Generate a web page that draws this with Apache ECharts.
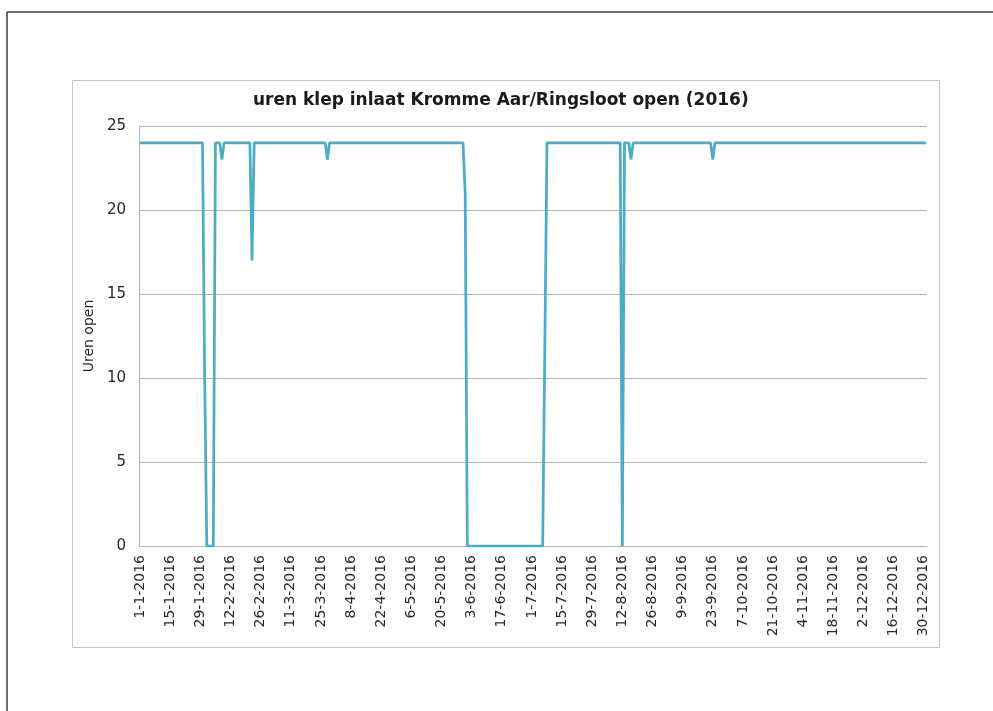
<!DOCTYPE html>
<html>
<head>
<meta charset="utf-8">
<script src="https://cdn.jsdelivr.net/npm/echarts@6/dist/echarts.min.js"></script>
<style>
html,body{margin:0;padding:0;background:#fff;}
#c{width:993px;height:711px;}
</style>
</head>
<body>
<div id="c"></div>
<script>
// ---- data ----
const titleText = 'uren klep inlaat Kromme Aar/Ringsloot open (2016)';
const yAxisName = 'Uren open';
const year = 2016;
const monthDays = [31,29,31,30,31,30,31,31,30,31,30,31];
const yTicks = [0,5,10,15,20,25];

const jan = [24,24,24,24,24,24,24,24,24,24, 24,24,24,24,24,24,24,24,24,24, 24,24,24,24,24,24,24,24,24,24, 10];
const feb = [0,0,0,0,24,24,24,23,24,24, 24,24,24,24,24,24,24,24,24,24, 24,17,24,24,24,24,24,24,24];
const mar = [24,24,24,24,24,24,24,24,24,24, 24,24,24,24,24,24,24,24,24,24, 24,24,24,24,24,24,24,23,24,24, 24];
const apr = [24,24,24,24,24,24,24,24,24,24, 24,24,24,24,24,24,24,24,24,24, 24,24,24,24,24,24,24,24,24,24];
const may = [24,24,24,24,24,24,24,24,24,24, 24,24,24,24,24,24,24,24,24,24, 24,24,24,24,24,24,24,24,24,24, 21];
const jun = [0,0,0,0,0,0,0,0,0,0, 0,0,0,0,0,0,0,0,0,0, 0,0,0,0,0,0,0,0,0,0];
const jul = [0,0,0,0,0,0,12,24,24,24, 24,24,24,24,24,24,24,24,24,24, 24,24,24,24,24,24,24,24,24,24, 24];
const aug = [24,24,24,24,24,24,24,24,24,24, 24,0,24,24,24,23,24,24,24,24, 24,24,24,24,24,24,24,24,24,24, 24];
const sep = [24,24,24,24,24,24,24,24,24,24, 24,24,24,24,24,24,24,24,24,24, 24,24,23,24,24,24,24,24,24,24];
const oct = [24,24,24,24,24,24,24,24,24,24, 24,24,24,24,24,24,24,24,24,24, 24,24,24,24,24,24,24,24,24,24, 24];
const nov = [24,24,24,24,24,24,24,24,24,24, 24,24,24,24,24,24,24,24,24,24, 24,24,24,24,24,24,24,24,24,24];
const dec = [24,24,24,24,24,24,24,24,24,24, 24,24,24,24,24,24,24,24,24,24, 24,24,24,24,24,24,24,24,24,24, 24];

// ---- build ----
const values = [].concat(jan,feb,mar,apr,may,jun,jul,aug,sep,oct,nov,dec);
const dates = [];
monthDays.forEach((n, m) => { for (let d = 1; d <= n; d++) dates.push(d + '-' + (m + 1) + '-' + year); });

const FONT = 'DejaVu Sans';
const chart = echarts.init(document.getElementById('c'), null, {renderer: 'canvas'});
chart.setOption({
  backgroundColor: '#ffffff',
  animation: false,
  textStyle: {fontFamily: FONT},
  title: {
    text: titleText,
    left: 253, top: 92, padding: 0,
    textStyle: {fontFamily: FONT, fontSize: 17, fontWeight: 'bold', color: '#1a1a1a'}
  },
  graphic: [
    {type: 'line', shape: {x1: 7, y1: 12, x2: 993, y2: 12}, style: {stroke: '#3a3a3a', lineWidth: 1.5}, silent: true},
    {type: 'line', shape: {x1: 7, y1: 12, x2: 7, y2: 711}, style: {stroke: '#3a3a3a', lineWidth: 1.5}, silent: true},
    {type: 'rect', shape: {x: 72.5, y: 80.5, width: 867, height: 567}, style: {fill: 'none', stroke: '#c4c4c4', lineWidth: 1}, silent: true}
  ],
  grid: {left: 139, top: 126, right: 66, bottom: 165, containLabel: false},
  xAxis: {
    type: 'category',
    data: dates,
    boundaryGap: true,
    axisLine: {show: true, lineStyle: {color: '#b4b4b4', width: 1}},
    axisTick: {show: false},
    axisLabel: {interval: 13, rotate: 90, fontFamily: FONT, fontSize: 14, color: '#262626', margin: 9},
    splitLine: {show: false}
  },
  yAxis: {
    type: 'value',
    min: yTicks[0], max: yTicks[yTicks.length - 1], interval: 5,
    name: yAxisName,
    nameLocation: 'middle',
    nameRotate: 90,
    nameGap: 37,
    nameTextStyle: {fontFamily: FONT, fontSize: 14, color: '#262626'},
    axisLine: {show: true, lineStyle: {color: '#b4b4b4', width: 1}},
    axisTick: {show: false},
    axisLabel: {fontFamily: FONT, fontSize: 15, color: '#262626', margin: 13},
    splitLine: {show: true, lineStyle: {color: '#b4b4b4', width: 1}}
  },
  series: [{
    type: 'line',
    data: values,
    showSymbol: false,
    symbol: 'none',
    lineStyle: {color: '#4bacc6', width: 2.75},
    itemStyle: {color: '#4bacc6'}
  }]
});
</script>
</body>
</html>
